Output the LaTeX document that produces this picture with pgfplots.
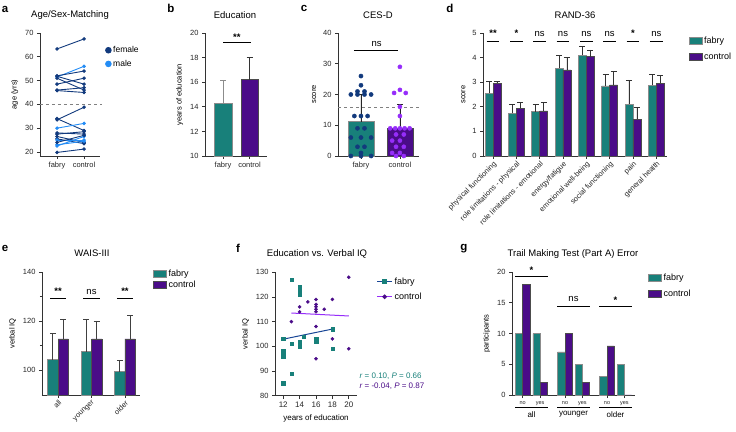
\documentclass[border=0pt]{standalone}
\usepackage{fontspec}
\setmainfont{Liberation Sans}
\usepackage{pgfplots}
\pgfplotsset{compat=1.18}
\definecolor{teal1}{RGB}{24,128,122}
\definecolor{purp}{RGB}{74,12,136}
\definecolor{navy}{RGB}{18,58,125}
\definecolor{lblue}{RGB}{35,140,245}
\definecolor{violet1}{RGB}{150,45,250}
\definecolor{fnavy}{RGB}{25,70,150}
\newcommand{\tfont}{\fontsize{9.5}{11}\selectfont}
\newcommand{\lfont}{\fontsize{11.5}{13}\selectfont\bfseries}
\newcommand{\sfont}{\fontsize{9.5}{10}\selectfont}
\tikzset{sig/.style={line width=0.9pt, black}}
\newcommand{\sigd}[2]{\draw[sig] (axis cs:#1-0.27,4.67) -- (axis cs:#1+0.27,4.67);
  \node[font=\sfont, anchor=south] at (axis cs:#1,4.72) {#2};}
\newcommand{\sige}[2]{\draw[sig] (axis cs:#1-0.24,129.1) -- (axis cs:#1+0.24,129.1);
  \node[font=\sfont, anchor=south] at (axis cs:#1,129.3) {#2};}
\newcommand{\grpg}[4]{\draw[line width=0.6pt] ([yshift=-12pt]axis cs:#1,0) -- ([yshift=-12pt]axis cs:#2,0);
  \node[font=\fontsize{8}{9}\selectfont] at ([yshift=-19.5pt]axis cs:#3,0) {#4};}
\pgfplotsset{
  gp/.style={scale only axis, axis lines=left,
    axis line style={-, line width=0.8pt, black!80},
    tick align=outside, major tick length=3pt, minor tick length=2pt,
    tick style={black!80, line width=0.8pt},
    tick label style={font=\fontsize{7.5}{8}\selectfont, black!85},
    label style={font=\fontsize{7.5}{9}\selectfont},
    /pgf/number format/assume math mode=true,
    legend cell align=left,
    legend style={draw=none, fill=none, font=\fontsize{9}{10}\selectfont},
    clip=false, anchor=south west},
  fem/.style={navy, line width=0.9pt, mark=*, mark size=1.3pt},
  mal/.style={lblue, line width=0.9pt, mark=*, mark size=1.3pt},
  sqleg/.style={legend image code/.code={\draw[##1] (0pt,-3.5pt) rectangle (13pt,3.5pt);}},
  dotleg/.style={legend image code/.code={\draw[##1, mark size=2.8pt] plot coordinates {(3pt,0pt)};}},
  fb/.style={fill=teal1, draw=black!45, line width=0.5pt},
  cb/.style={fill=purp, draw=black!70, line width=0.5pt},
  eb/.style={error bars/.cd, y dir=plus, y explicit,
    error bar style={#1, line width=0.8pt},
    error mark options={#1, line width=0.8pt, mark size=3pt, rotate=90}},
}
\begin{document}
\begin{tikzpicture}
\useasboundingbox (0,0) rectangle (736pt,431pt);
% titles and letters
\node[font=\tfont] at (70pt,416pt) {Age/Sex-Matching};
\node[font=\tfont] at (235pt,416pt) {Education};
\node[font=\tfont] at (378pt,416pt) {CES-D};
\node[font=\tfont] at (575pt,416pt) {RAND-36};
\node[font=\tfont] at (92pt,178pt) {WAIS-III};
\node[font=\tfont] at (317pt,177pt) {Education vs. Verbal IQ};
\node[font=\tfont] at (573pt,177pt) {Trail Making Test (Part A) Error};
\node[font=\lfont] at (5pt,422pt) {a};
\node[font=\lfont] at (171pt,423pt) {b};
\node[font=\lfont] at (304pt,423pt) {c};
\node[font=\lfont] at (450pt,423pt) {d};
\node[font=\lfont] at (5pt,183pt) {e};
\node[font=\lfont] at (238pt,183pt) {f};
\node[font=\lfont] at (464pt,182pt) {g};

% ---------- a ----------
\begin{axis}[gp, at={(40pt,275pt)}, width=60pt, height=123pt,
  xmin=-0.63, xmax=1.59, ymin=18.3, ymax=70,
  xtick={0,1}, xticklabels={fabry,control}, ytick={20,30,...,70},
  ylabel={age (yrs)},
  legend style={at={(axis description cs:1.04,0.925)}, anchor=north west, row sep=2pt, font=\fontsize{8.5}{9}\selectfont}]
\addplot[fem, dotleg] coordinates {(0,63.3) (1,67.5)}; \addlegendentry{female}
\addplot[mal, dotleg] coordinates {(0,51.5) (1,56)}; \addlegendentry{male}
\addplot[fem, forget plot] coordinates {(0,52) (1,54)};
\addplot[fem, forget plot] coordinates {(0,51) (1,46)};
\addplot[fem, forget plot] coordinates {(0,48.5) (1,51)};
\addplot[fem, forget plot] coordinates {(0,46) (1,47)};
\addplot[fem, forget plot] coordinates {(0,45.8) (1,45)};
\addplot[fem, forget plot] coordinates {(0,51.8) (1,48.5)};
\addplot[fem, forget plot] coordinates {(0,33.5) (1,38.8)};
\addplot[fem, forget plot] coordinates {(0,34) (1,29)};
\addplot[mal, forget plot] coordinates {(0,30) (1,32)};
\addplot[fem, forget plot] coordinates {(0,28) (1,27.5)};
\addplot[fem, forget plot] coordinates {(0,27.5) (1,28.5)};
\addplot[fem, forget plot] coordinates {(0,26.5) (1,24)};
\addplot[fem, forget plot] coordinates {(0,25.5) (1,23.5)};
\addplot[mal, forget plot] coordinates {(0,25) (1,25)};
\addplot[mal, forget plot] coordinates {(0,23) (1,24.5)};
\addplot[mal, forget plot] coordinates {(0,22.5) (1,26.5)};
\addplot[fem, forget plot] coordinates {(0,24) (1,27)};
\addplot[fem, forget plot] coordinates {(0,19.8) (1,21.2)};
\addplot[forget plot, dashed, gray, line width=0.5pt] coordinates {(-0.63,40) (1.65,40)};
\end{axis}

% ---------- b ----------
\begin{axis}[gp, at={(205pt,275pt)}, width=62pt, height=123pt,
  clip mode=individual,
  xmin=-0.68, xmax=1.66, ymin=10, ymax=20,
  xtick={0,1}, xticklabels={fabry,control}, ytick={10,12,...,20},
  ylabel={years of education}]
\addplot[ybar, bar width=0.66, fb, eb=black!45] coordinates {(0,14.25) +- (0,1.9)};
\addplot[ybar, bar width=0.66, cb, eb=black!80] coordinates {(1,16.2) +- (0,1.8)};
\draw[sig] (axis cs:0,19.2) -- (axis cs:1.05,19.2);
\node[font=\sfont\bfseries, anchor=south] at (axis cs:0.52,19.1) {**};
\end{axis}

% ---------- c ----------
\begin{axis}[gp, at={(338pt,275pt)}, width=81pt, height=123pt,
  xmin=-0.59, xmax=1.49, ymin=0, ymax=40,
  xtick={0,1}, xticklabels={fabry,control}, ytick={0,10,...,40},
  ylabel={score}]
\addplot[forget plot, dashed, gray, line width=0.5pt] coordinates {(-0.59,16) (1.49,16)};
\addplot[ybar, bar width=0.67, fb, eb=black!85] coordinates {(0,11.2) +- (0,8.7)};
\addplot[ybar, bar width=0.67, cb, eb=black!85] coordinates {(1,9.1) +- (0,7.8)};
\addplot[only marks, mark=*, mark size=2.1pt, navy] coordinates {
(0,26) (0,23) (-0.09,21) (0.09,21) (-0.26,20) (-0.09,20) (0.09,20) (0.26,20)
(-0.17,13) (0,13) (0.17,13) (-0.09,9) (0.09,9) (-0.26,6) (0,6) (0.26,6)
(-0.09,3) (0.09,3) (0,1) (-0.26,0) (0,0) (0.26,0)};
\addplot[only marks, mark=*, mark size=2.1pt, violet1] coordinates {
(1,29) (0.85,20.5) (1.15,20.5) (1,21.5) (1,16) (1,13)
(0.75,9) (0.88,9) (1,9) (1.12,9) (1.25,9) (0.9,7) (1.1,7) (0.8,5) (1,5)
(0.9,3) (1.1,3) (0.8,1) (1,1) (0.9,0) (1.1,0)};
\draw[sig] (axis cs:-0.18,34.2) -- (axis cs:0.95,34.2);
\node[font=\sfont, anchor=south] at (axis cs:0.4,34.4) {ns};
\end{axis}

% ---------- d ----------
\begin{axis}[gp, at={(483pt,275pt)}, width=184pt, height=123pt,
  ybar=0pt, bar width=0.34,
  xmin=-0.43, xmax=7.46, ymin=0, ymax=5,
  xtick={0,...,7}, ytick={0,...,5},
  xticklabels={physical functioning, role limitations - physical, role limitations - emotional, energy/fatigue, emotional well-being, social functioning, pain, general health},
  xticklabel style={rotate=45, anchor=north east, font=\fontsize{7.4}{8}\selectfont, inner sep=1pt},
  ylabel={score},
  legend style={at={(axis description cs:1.1,1.0)}, anchor=north west, row sep=4pt}]
\addplot[fb, sqleg, eb=black!80] coordinates {
(0,2.55) +- (0,0.5) (1,1.74) +- (0,0.37) (2,1.80) +- (0,0.31) (3,3.56) +- (0,0.52)
(4,4.09) +- (0,0.35) (5,2.85) +- (0,0.46) (6,2.10) +- (0,0.99) (7,2.87) +- (0,0.44)};
\addlegendentry{fabry}
\addplot[cb, sqleg, eb=black!80] coordinates {
(0,2.95) +- (0,0.10) (1,1.94) +- (0,0.23) (2,1.83) +- (0,0.35) (3,3.50) +- (0,0.51)
(4,4.04) +- (0,0.27) (5,2.89) +- (0,0.54) (6,1.50) +- (0,0.48) (7,2.96) +- (0,0.33)};
\addlegendentry{control}
\sigd{0}{\textbf{**}}\sigd{1}{\textbf{*}}\sigd{2}{ns}\sigd{3}{ns}\sigd{4}{ns}\sigd{5}{ns}\sigd{6}{\textbf{*}}\sigd{7}{ns}
\end{axis}

% ---------- e ----------
\begin{axis}[gp, at={(42pt,36pt)}, width=98pt, height=123pt,
  clip mode=individual,
  ybar=0pt, bar width=0.31,
  xmin=-0.48, xmax=2.45, ymin=90, ymax=140,
  xtick={0,1,2}, xticklabels={all,younger,older},
  xticklabel style={rotate=45, anchor=north east, font=\fontsize{7.4}{8}\selectfont, inner sep=1pt},
  ytick={100,120,140}, minor ytick={110,130},
  ylabel={verbal IQ},
  legend style={at={(axis description cs:1.1,1.05)}, anchor=north west, row sep=-1pt}]
\addplot[fb, sqleg, eb=black!75] coordinates {(0,104.4) +- (0,10.8) (1,107.6) +- (0,13.0) (2,99.5) +- (0,4.7)};
\addlegendentry{fabry}
\addplot[cb, sqleg, eb=black!75] coordinates {(0,112.8) +- (0,8.1) (1,112.8) +- (0,7.3) (2,112.8) +- (0,9.5)};
\addlegendentry{control}
\sige{0}{\textbf{**}}\sige{1}{ns}\sige{2}{\textbf{**}}
\end{axis}

% ---------- f ----------
\begin{axis}[gp, at={(275pt,35.3pt)}, width=82pt, height=123.4pt,
  xmin=11, xmax=21, ymin=80, ymax=130,
  xtick={12,14,...,20}, ytick={80,90,...,130},
  xticklabel style={font=\fontsize{8}{9}\selectfont},
  xlabel={years of education}, ylabel={verbal IQ},
  xlabel style={font=\fontsize{8}{9}\selectfont},
  legend style={at={(axis description cs:1.2,0.99)}, anchor=north west, row sep=3pt}]
\addplot[fnavy, line width=1pt, legend image code/.code={\draw[fnavy, line width=1pt] (0pt,0pt) -- (15pt,0pt); \fill[teal1] (5.8pt,-1.8pt) rectangle (9.4pt,1.8pt);}] coordinates {(12,102.9) (18,107)};
\addlegendentry{fabry}
\addplot[violet1, line width=1pt, legend image code/.code={\draw[violet1, line width=1pt] (0pt,0pt) -- (15pt,0pt); \fill[purp] (7.6pt,0pt) circle (1.8pt);}] coordinates {(13,113.5) (20,112.3)};
\addlegendentry{control}
\addplot[only marks, mark=square*, mark size=1.7pt, teal1, forget plot] coordinates {
(13,127) (14,124) (14,122) (14,121) (12,103) (13,101) (14,102) (14,100) (14.5,104)
(16,103) (16,102) (18,107) (18,99) (12,98) (12,96) (13,89) (12,85)};
\addplot[only marks, mark=*, mark size=1.6pt, purp, forget plot] coordinates {
(20,128) (16,119) (16,117) (16,116) (16,115) (16,114) (15,118) (14,116) (14,114)
(17,115) (18,119) (13,110) (16,108) (18,103) (20,99) (16,95)};
\end{axis}
\node[anchor=west, font=\fontsize{8}{9}\selectfont, teal1] at (356pt,55pt) {\textit{r} = 0.10, \textit{P} = 0.66};
\node[anchor=west, font=\fontsize{8}{9}\selectfont, purp] at (356pt,45pt) {\textit{r} = -0.04, \textit{P} = 0.87};

% ---------- g ----------
\begin{axis}[gp, at={(512pt,36pt)}, width=123pt, height=123pt,
  ybar=0pt, bar width=7.3,
  xmin=512, xmax=635, ymin=0, ymax=20,
  xtick={522.7,540.2,565,582.3,607,624.3}, xticklabels={no,yes,no,yes,no,yes},
  xticklabel style={font=\fontsize{5.5}{6}\selectfont},
  ytick={0,5,...,20},
  ylabel={participants},
  legend style={at={(axis description cs:1.08,1.02)}, anchor=north west, row sep=4pt}]
\addplot[fb, sqleg] coordinates {(522.7,10) (540.2,10) (565,7) (582.3,5) (607,3) (624.3,5)};
\addlegendentry{fabry}
\addplot[cb, sqleg] coordinates {(522.7,18) (540.2,2) (565,10) (582.3,2) (607,8) (624.3,0)};
\addlegendentry{control}
\draw[sig] (axis cs:515,19.3) -- (axis cs:548,19.3);
\node[font=\sfont\bfseries, anchor=south] at (axis cs:531.5,19.2) {*};
\draw[sig] (axis cs:557,14.4) -- (axis cs:590,14.4);
\node[font=\sfont, anchor=south] at (axis cs:573.5,14.6) {ns};
\draw[sig] (axis cs:599,14.4) -- (axis cs:632,14.4);
\node[font=\sfont\bfseries, anchor=south] at (axis cs:615.5,14.3) {*};
\grpg{515}{548}{531.5}{all}
\grpg{557}{590}{573.5}{younger}
\grpg{599}{632}{615.5}{older}
\end{axis}
\end{tikzpicture}
\end{document}
